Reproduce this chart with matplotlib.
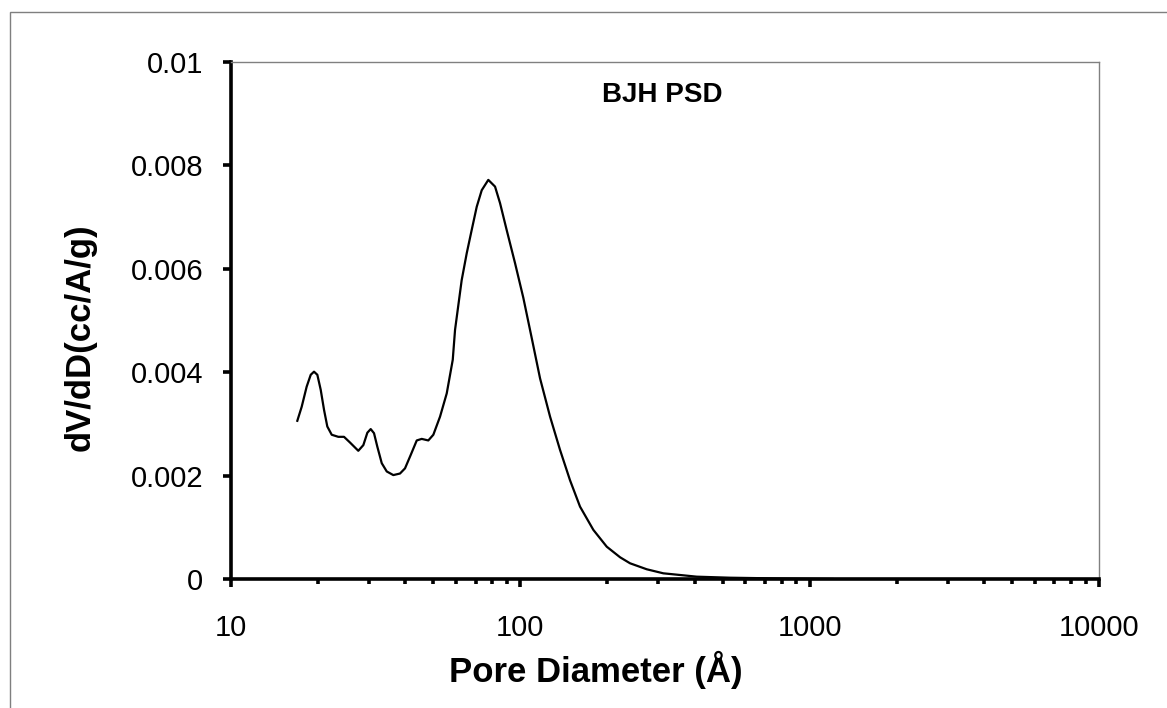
#!/usr/bin/env python3
"""BJH pore size distribution (dV/dD vs pore diameter), Excel-style look."""

import matplotlib
matplotlib.use("Agg")
import matplotlib.pyplot as plt
import matplotlib.patches as patches
from matplotlib.ticker import LogLocator, NullFormatter, FixedLocator

plt.rcParams['font.family'] = ['Liberation Sans', 'DejaVu Sans']

# pore diameter (A) and dV/dD (cc/A/g)
diameter = [16.95, 17.55, 18.26, 18.86, 19.36, 19.88, 20.42, 20.97, 21.52, 22.29,
            23.49, 24.58, 25.78, 27.54, 28.67, 29.60, 30.40, 31.21, 32.04, 33.19,
            34.54, 36.39, 38.38, 39.94, 41.80, 43.85, 45.62, 48.08, 50.04, 52.78,
            55.67, 58.40, 59.48, 62.70, 65.27, 67.90, 70.68, 73.55, 77.50, 81.77,
            85.09, 89.70, 95.87, 102.4, 109.5, 117.0, 126.7, 137.1, 148.5, 160.8,
            178.8, 198.9, 221.2, 239.4, 273.5, 312.0, 407.0, 530.6, 800.0, 1200.0]
dvdd = [0.00306, 0.00333, 0.00372, 0.00395, 0.00401, 0.00395, 0.00366, 0.00327,
        0.00295, 0.00279, 0.00275, 0.00275, 0.00264, 0.00248, 0.00259, 0.00283,
        0.00290, 0.00282, 0.00256, 0.00224, 0.00208, 0.00201, 0.00204, 0.00214,
        0.00240, 0.00268, 0.00271, 0.00268, 0.00279, 0.00314, 0.00359, 0.00424,
        0.00482, 0.00578, 0.00630, 0.00675, 0.00720, 0.00752, 0.00772, 0.00759,
        0.00727, 0.00675, 0.00611, 0.00544, 0.00466, 0.00388, 0.00314, 0.00250,
        0.00191, 0.00140, 0.00095, 0.000625, 0.00042, 0.000304, 0.000188,
        0.00011, 0.000045, 0.000025, 0.00001, 0.0]

x_ticks = [10, 100, 1000, 10000]
x_ticklabels = ["10", "100", "1000", "10000"]
y_ticks = [0, 0.002, 0.004, 0.006, 0.008, 0.01]
y_ticklabels = ["0", "0.002", "0.004", "0.006", "0.008", "0.01"]

W, H = 1167, 708
fig = plt.figure(figsize=(W / 100, H / 100), dpi=100)
ax = fig.add_axes([231 / W, 1 - 579 / H, (1099 - 231) / W, (579 - 62) / H])

# outer chart frame (cropped on right and bottom)
fig.patches.append(patches.Rectangle((10 / W, -0.5), 2.0, (H - 12) / H + 0.5,
                                     transform=fig.transFigure, fill=False,
                                     edgecolor='#7f7f7f', linewidth=1.0))

ax.plot(diameter, dvdd, color='black', linewidth=1.6, solid_joinstyle='round')

ax.set_xscale('log')
ax.set_xlim(10, 10000)
ax.set_ylim(0, 0.01)

ax.xaxis.set_major_locator(FixedLocator(x_ticks))
ax.set_xticklabels(x_ticklabels)
ax.xaxis.set_minor_locator(LogLocator(base=10, subs=range(2, 10)))
ax.xaxis.set_minor_formatter(NullFormatter())
ax.set_yticks(y_ticks)
ax.set_yticklabels(y_ticklabels)

for side in ('left', 'bottom'):
    ax.spines[side].set_linewidth(2.6)
    ax.spines[side].set_color('black')
for side in ('top', 'right'):
    ax.spines[side].set_linewidth(1.0)
    ax.spines[side].set_color('#808080')

ax.tick_params(axis='both', which='major', direction='out', length=6, width=2.6,
               labelsize=21, color='black')
ax.tick_params(axis='x', which='minor', direction='out', length=3.5, width=2.6)
ax.tick_params(axis='x', which='major', pad=19)
ax.tick_params(axis='y', which='major', pad=14)

ax.set_xlabel('Pore Diameter (Å)', fontsize=25, fontweight='bold', va='baseline')
ax.xaxis.set_label_coords(0.42, -0.199)
ax.set_ylabel('dV/dD(cc/A/g)', fontsize=25, fontweight='bold', va='center')
ax.yaxis.set_label_coords((80 - 231) / 868, 0.468)

ax.text(0.497, 0.936, 'BJH PSD', transform=ax.transAxes, ha='center', va='center',
        fontsize=20, fontweight='bold')

fig.savefig('out.png', dpi=100)
